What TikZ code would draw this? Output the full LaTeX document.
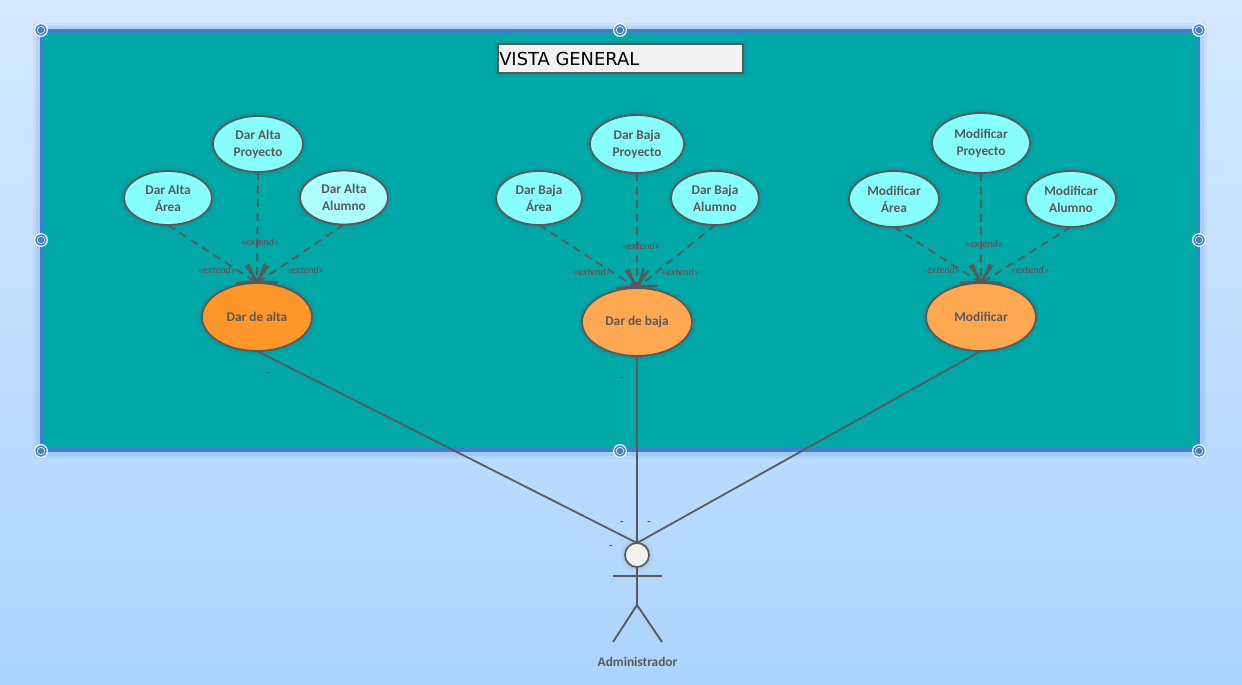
\documentclass[tikz,border=0pt]{standalone}
\usepackage{fontspec}
\setmainfont{Carlito}
\newfontfamily\titlefont{DejaVu Sans}
\usetikzlibrary{arrows.meta,shapes.geometric}
\definecolor{ink}{HTML}{595959}
\definecolor{panelc}{HTML}{00A8A8}
\definecolor{edgeblue}{HTML}{3F7FCB}
\definecolor{cyanuc}{HTML}{88FFFF}
\definecolor{paleuc}{HTML}{AEFFFF}
\definecolor{orangeA}{HTML}{FF962A}
\definecolor{orangeB}{HTML}{FFA852}
\definecolor{extc}{HTML}{70454F}
\definecolor{bgtop}{HTML}{D5E8FF}
\definecolor{bgbot}{HTML}{ACD4FF}
\tikzset{
  x=0.75pt,y=-0.75pt,
  softshadow/.style={
    preaction={draw=black!70,draw opacity=.025,line width=7.5pt},
    preaction={draw=black!70,draw opacity=.035,line width=5pt},
    preaction={draw=black!70,draw opacity=.05,line width=3pt}},
  uc/.style n args={3}{ellipse,draw=ink,line width=1.35pt,fill=#3,inner sep=0pt,outer sep=0pt,
    minimum width={#1*1.5pt},minimum height={#2*1.5pt},align=center,text=ink,softshadow,
    font=\fontsize{10}{12.7}\selectfont\bfseries},
  dep/.style={draw=ink,line width=1.35pt,dash pattern=on 6pt off 4.2pt,
    -{Straight Barb[length=11.5pt,width=17pt,line width=1.9pt]}},
  assoc/.style={draw=ink,line width=1.3pt},
  extlabel/.style={font=\fontsize{7.6}{8}\selectfont\itshape,text=extc,inner sep=0pt},
  tick/.style={font=\fontsize{9}{10}\selectfont,text=black!75,inner sep=0pt},
  handle/.style={circle,draw=white,line width=0.9pt,fill=edgeblue,minimum size=9.5pt,inner sep=0pt,
    path picture={\draw[white,line width=.5pt] (path picture bounding box.center) circle (2.8pt);}},
  stick/.style={draw=ink,line width=1.4pt},
}
\begin{document}
\begin{tikzpicture}
\useasboundingbox (0,0) rectangle (1242,685);
\shade[top color=bgtop,bottom color=bgbot] (0,0) rectangle (1242,685);

% panel
\path[fill=edgeblue,fill opacity=.08] (33,23) rectangle (1207,459);
\path[fill=edgeblue,fill opacity=.12] (36,26) rectangle (1204,456);
\node[draw=edgeblue,line width=2.4pt,fill=panelc,inner sep=0pt,outer sep=0pt,
  minimum width={1157*.75pt},minimum height={419*.75pt}] (panel) at (620,240.5) {};

% title
\node[draw=ink,line width=1.3pt,fill=black!5,inner sep=0pt,outer sep=0pt,softshadow,
  minimum width={245*.75pt},minimum height={29*.75pt}] (titlebox) at (620.5,58.5) {};
\node[anchor=west,inner sep=0pt,font=\fontsize{13.4}{15}\selectfont\titlefont] (titletext)
  at (499,58.5) {VISTA GENERAL};

% use cases: alta
\node[uc={45}{28}{cyanuc}] (ap) at (258,144) {Dar Alta\\Proyecto};
\node[uc={44}{27}{cyanuc}] (aa) at (168,198) {Dar Alta\\Área};
\node[uc={44}{27}{paleuc}] (al) at (344,197.5) {Dar Alta\\Alumno};
\node[uc={55}{34}{orangeA}] (alta) at (257,317) {Dar de alta};
% baja
\node[uc={47}{29}{cyanuc}] (bp) at (637,144) {Dar Baja\\Proyecto};
\node[uc={43}{27}{cyanuc}] (ba) at (539,198) {Dar Baja\\Área};
\node[uc={44}{27}{cyanuc}] (bl) at (715,198) {Dar Baja\\Alumno};
\node[uc={55}{34}{orangeB}] (baja) at (637,322) {Dar de baja};
% modificar
\node[uc={49}{30}{cyanuc}] (mp) at (981,143) {Modificar\\Proyecto};
\node[uc={45}{28}{cyanuc}] (ma) at (894,199) {Modificar\\Área};
\node[uc={45}{28}{cyanuc}] (ml) at (1071,199) {Modificar\\Alumno};
\node[uc={55}{34}{orangeB}] (modif) at (981,317) {Modificar};

% extends
\draw[dep] (ap.south) -- (alta.north);
\draw[dep] (aa.south) -- (alta.north);
\draw[dep] (al.south) -- (alta.north);
\draw[dep] (bp.south) -- (baja.north);
\draw[dep] (ba.south) -- (baja.north);
\draw[dep] (bl.south) -- (baja.north);
\draw[dep] (mp.south) -- (modif.north);
\draw[dep] (ma.south) -- (modif.north);
\draw[dep] (ml.south) -- (modif.north);

\node[extlabel] (e1) at (260,242) {«extend»};
\node[extlabel] (e2) at (217,270) {«extend»};
\node[extlabel] (e3) at (305,270) {«extend»};
\node[extlabel] (e4) at (641,246) {«extend»};
\node[extlabel] (e5) at (592,272) {«extend»};
\node[extlabel] (e6) at (680,272) {«extend»};
\node[extlabel] (e7) at (984,244) {«extend»};
\node[extlabel] (e8) at (941,270) {«extend»};
\node[extlabel] (e9) at (1030,270) {«extend»};

% actor
\node[circle,draw=ink,line width=1.3pt,fill=black!5,minimum size={24*.75pt},inner sep=0pt,outer sep=0pt,softshadow] (head) at (637,555) {};
\coordinate (armL) at (613,576);
\coordinate (armR) at (662,576);
\coordinate (hip) at (637,605);
\coordinate (footL) at (613,642);
\coordinate (footR) at (662,642);
\draw[stick] (head.south) -- (hip);
\draw[stick] (armL) -- (armR);
\draw[stick] (footL) -- (hip) -- (footR);
\node[font=\fontsize{10}{11}\selectfont\bfseries,text=ink,inner sep=0pt] (actor) at (637.5,662) {Administrador};

% associations
\draw[assoc] (alta.south) -- (head.north);
\draw[assoc] (baja.south) -- (head.north);
\draw[assoc] (modif.south) -- (head.north);

\node[tick] (t1) at (268,375) {-};
\node[tick] (t2) at (622,380) {-};
\node[tick] (t3) at (622,524) {-};
\node[tick] (t4) at (649,524) {-};
\node[tick] (t5) at (611,548) {-};

% handles
\node[handle] (h1) at (41,30) {};
\node[handle] (h2) at (620,30) {};
\node[handle] (h3) at (1199,30) {};
\node[handle] (h4) at (41,240) {};
\node[handle] (h5) at (1199,240) {};
\node[handle] (h6) at (41,451) {};
\node[handle] (h7) at (620,451) {};
\node[handle] (h8) at (1199,451) {};
\end{tikzpicture}
\end{document}
